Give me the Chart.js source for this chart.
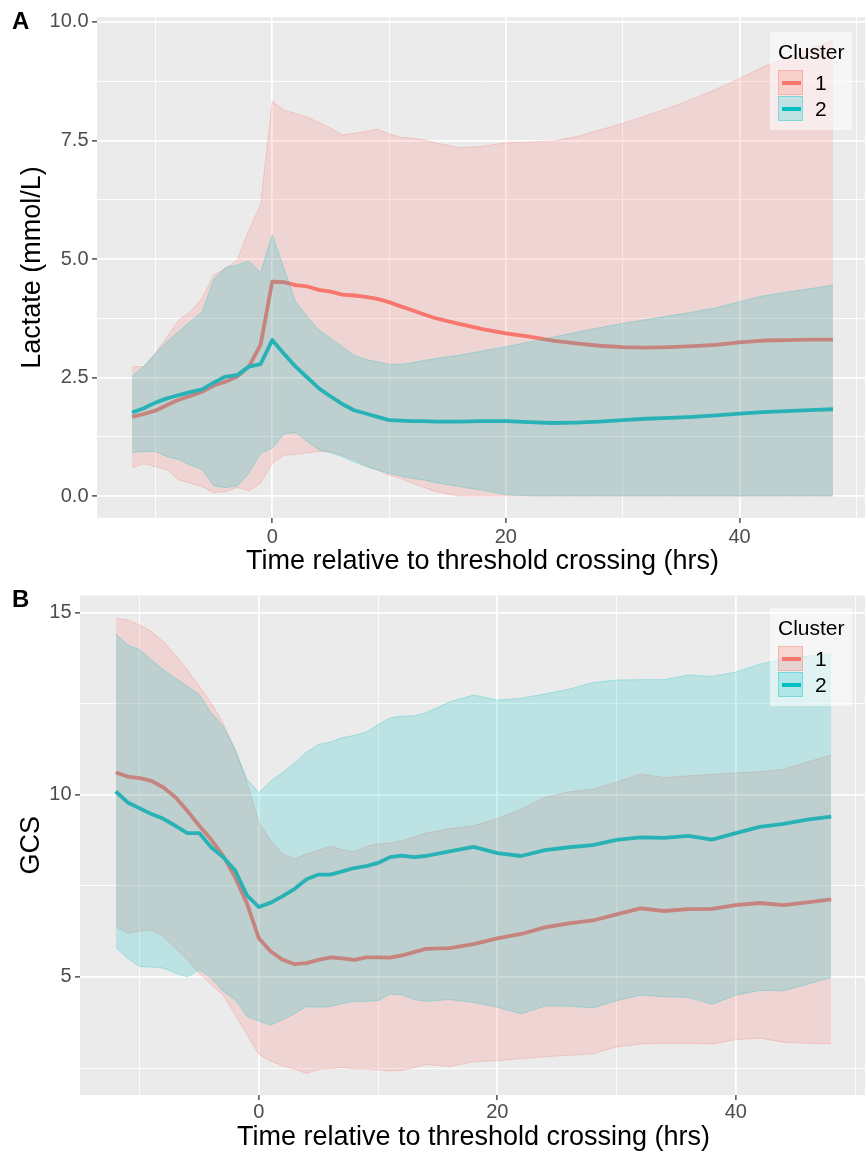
<!DOCTYPE html>
<html>
<head>
<meta charset="utf-8">
<script src="https://cdn.jsdelivr.net/npm/chart.js@4.4.1/dist/chart.umd.min.js"></script>
<style>
  html, body { margin:0; padding:0; background:#fff; overflow:hidden; }
  #wrap { position:relative; width:865px; height:1156px; overflow:hidden; font-family:'Liberation Sans', Arial, sans-serif; }
  #wrap canvas { position:absolute; left:0; }
  .tag { position:absolute; left:12px; font-weight:bold; font-size:24px; line-height:24px; color:#000; }
  .legend { position:absolute; left:770px; width:82px; height:98px; background:rgba(255,255,255,0.55); }
  .legend .ttl { position:absolute; left:8px; top:8px; font-size:21px; line-height:24px; color:#000; }
  .legend .sw { position:absolute; left:8px; width:25px; height:25px; box-sizing:border-box; }
  .legend .sw i { position:absolute; left:3px; top:10px; width:19px; height:4px; }
  .legend .lab { position:absolute; left:45px; font-size:21px; line-height:26px; color:#000; }
</style>
</head>
<body>
<div id="wrap">
  <canvas id="chartA" width="868" height="580" style="top:0"></canvas>
  <canvas id="chartB" width="867" height="576" style="top:580px"></canvas>
  <div class="tag" style="top:9px">A</div>
  <div class="tag" style="top:587px">B</div>
  <div class="legend" style="top:32px">
    <div class="ttl">Cluster</div>
    <div class="sw" style="top:38px;background:rgba(248,118,109,0.25);border:1px solid rgba(248,118,109,0.35)"><i style="background:#F8766D"></i></div>
    <div class="lab" style="top:38px">1</div>
    <div class="sw" style="top:64px;background:rgba(0,191,196,0.22);border:1px solid rgba(0,191,196,0.35)"><i style="background:#00BFC4"></i></div>
    <div class="lab" style="top:64px">2</div>
  </div>
  <div class="legend" style="top:608px">
    <div class="ttl">Cluster</div>
    <div class="sw" style="top:38px;background:rgba(248,118,109,0.25);border:1px solid rgba(248,118,109,0.35)"><i style="background:#F8766D"></i></div>
    <div class="lab" style="top:38px">1</div>
    <div class="sw" style="top:64px;background:rgba(0,191,196,0.22);border:1px solid rgba(0,191,196,0.35)"><i style="background:#00BFC4"></i></div>
    <div class="lab" style="top:64px">2</div>
  </div>
</div>
<script>
// --- datos (horas respecto al cruce del umbral) ---
const hours = [-12,-11,-10,-9,-8,-7,-6,-5,-4,-3,-2,-1,0,1,2,3,4,5,6,7,8,9,10,11,12,13,14,
  16,18,20,22,24,26,28,30,32,34,36,38,40,42,44,46,48];

// Panel A: lactato
const lactateMean1  = [1.67,1.73,1.80,1.92,2.03,2.11,2.20,2.33,2.41,2.52,2.73,3.19,4.52,4.51,4.45,4.42,4.35,4.31,4.25,4.23,4.20,4.16,4.09,4.00,3.92,3.83,3.75,
  3.63,3.52,3.43,3.36,3.28,3.22,3.17,3.14,3.13,3.14,3.16,3.19,3.24,3.28,3.29,3.30,3.30];
const lactateUpper1 = [2.73,2.73,3.01,3.36,3.71,3.89,4.17,4.66,4.80,4.98,5.61,6.14,8.33,8.14,8.07,7.99,7.88,7.76,7.62,7.65,7.69,7.74,7.64,7.57,7.55,7.51,7.45,
  7.35,7.38,7.45,7.47,7.49,7.58,7.72,7.86,8.02,8.19,8.38,8.58,8.81,9.05,9.25,9.43,9.62];
const lactateLower1 = [0.60,0.68,0.62,0.55,0.34,0.27,0.20,0.07,0.09,0.18,0.11,0.27,0.69,0.86,0.88,0.91,0.94,0.94,0.86,0.77,0.65,0.55,0.44,0.37,0.27,0.18,0.09,
  0,0,0,0,0,0,0,0,0,0,0,0,0,0,0,0,0];
const lactateMean2  = [1.76,1.85,1.97,2.06,2.13,2.19,2.25,2.39,2.52,2.55,2.73,2.78,3.29,3.00,2.73,2.50,2.27,2.10,1.94,1.81,1.74,1.67,1.60,1.59,1.58,1.58,1.57,
  1.57,1.58,1.58,1.56,1.54,1.55,1.57,1.60,1.63,1.65,1.67,1.70,1.74,1.77,1.79,1.81,1.83];
const lactateUpper2 = [2.53,2.73,3.01,3.26,3.47,3.68,3.89,4.57,4.82,4.87,4.96,4.71,5.51,4.80,4.10,3.78,3.50,3.33,3.15,2.97,2.88,2.83,2.78,2.78,2.81,2.86,2.90,
  2.97,3.06,3.15,3.25,3.35,3.45,3.55,3.64,3.72,3.80,3.88,3.97,4.10,4.22,4.30,4.37,4.45];
const lactateLower2 = [0.92,0.94,0.94,0.83,0.77,0.65,0.56,0.21,0.18,0.21,0.48,0.90,1.01,1.31,1.34,1.15,0.97,0.91,0.83,0.72,0.62,0.55,0.48,0.42,0.37,0.34,0.28,
  0.20,0.12,0.03,0,0,0,0,0,0,0,0,0,0,0,0,0,0];

// Panel B: GCS
const gcsMean1  = [10.61,10.50,10.46,10.38,10.20,9.93,9.56,9.15,8.77,8.33,7.74,7.02,6.06,5.70,5.47,5.35,5.38,5.47,5.54,5.51,5.47,5.54,5.54,5.53,5.59,5.68,5.77,
  5.79,5.90,6.06,6.18,6.36,6.47,6.55,6.72,6.88,6.81,6.86,6.87,6.97,7.03,6.97,7.05,7.13];
const gcsUpper1 = [14.84,14.80,14.66,14.48,14.20,13.84,13.43,12.98,12.52,11.97,11.25,10.34,9.24,8.74,8.38,8.24,8.38,8.47,8.59,8.49,8.44,8.59,8.65,8.68,8.74,8.84,8.95,
  9.07,9.15,9.35,9.60,9.93,10.08,10.15,10.35,10.57,10.47,10.52,10.56,10.60,10.63,10.70,10.90,11.09];
const gcsLower1 = [6.38,6.20,6.26,6.29,6.11,5.79,5.47,5.11,4.79,4.51,3.97,3.42,2.88,2.69,2.56,2.47,2.35,2.47,2.49,2.51,2.48,2.48,2.45,2.42,2.44,2.51,2.60,
  2.54,2.67,2.70,2.76,2.81,2.85,2.89,3.08,3.16,3.18,3.18,3.16,3.28,3.32,3.21,3.18,3.17];
const gcsMean2  = [10.09,9.79,9.63,9.47,9.34,9.15,8.95,8.95,8.56,8.29,7.93,7.24,6.92,7.04,7.22,7.42,7.68,7.81,7.81,7.90,7.99,8.04,8.13,8.29,8.33,8.29,8.32,
  8.45,8.57,8.40,8.32,8.48,8.56,8.62,8.76,8.83,8.82,8.87,8.77,8.95,9.12,9.20,9.32,9.40];
const gcsUpper2 = [14.41,14.11,13.98,13.70,13.43,13.20,12.98,12.75,12.25,11.88,11.25,10.43,10.06,10.38,10.61,10.88,11.17,11.38,11.45,11.57,11.63,11.72,11.93,12.11,12.16,12.17,12.25,
  12.55,12.74,12.60,12.65,12.77,12.90,13.08,13.15,13.16,13.16,13.29,13.25,13.37,13.58,13.74,13.80,13.86];
const gcsLower2 = [5.81,5.51,5.29,5.27,5.24,5.11,5.00,5.20,4.97,4.61,4.38,3.92,3.79,3.68,3.83,3.99,4.19,4.17,4.19,4.27,4.33,4.33,4.35,4.53,4.51,4.38,4.33,
  4.38,4.30,4.17,3.99,4.20,4.20,4.15,4.35,4.50,4.46,4.44,4.25,4.50,4.63,4.62,4.80,4.99];

// ticks
const xTicks = [-10,0,10,20,30,40,50];
const xMajor = [0,20,40];
const lactateTicks = [0,1.25,2.5,3.75,5,6.25,7.5,8.75,10];
const lactateMajor = [0,2.5,5,7.5,10];
const gcsTicks = [2.5,5,7.5,10,12.5,15];
const gcsMajor = [5,10,15];

const xTitle = 'Time relative to threshold crossing (hrs)';
const FONT = "'Liberation Sans', Arial, sans-serif";
const RED = '248,118,109';
const TEAL = '0,191,196';

const pts = arr => hours.map((h, i) => ({ x: h, y: arr[i] }));

// fondo gris del panel (estilo ggplot)
const panelBg = {
  id: 'panelBg',
  beforeDraw(chart) {
    const { ctx, chartArea: a } = chart;
    ctx.save();
    ctx.fillStyle = '#EBEBEB';
    ctx.fillRect(a.left, a.top, a.right - a.left, a.bottom - a.top);
    ctx.restore();
  }
};

function gridOpts(major) {
  const isMajor = c => c.tick && major.includes(c.tick.value);
  return {
    color: '#FFFFFF',
    lineWidth: c => isMajor(c) ? 1.8 : 0.9,
    tickColor: c => isMajor(c) ? '#333333' : 'rgba(0,0,0,0)',
    tickWidth: 1.3,
    tickLength: 5,
    drawTicks: true
  };
}

function makePanel(id, p) {
  const band = (data, rgb, target, order) => ({
    data: pts(data), borderColor: `rgba(${rgb},0.45)`, borderWidth: 0.6,
    backgroundColor: `rgba(${rgb},0.2)`, fill: target === null ? false : { target },
    pointRadius: 0, tension: 0, order
  });
  const line = (data, rgb, order) => ({
    data: pts(data), borderColor: `rgb(${rgb})`, borderWidth: 3.8,
    fill: false, pointRadius: 0, tension: 0, borderJoinStyle: 'round', order
  });

  // orden de dibujo: lineas abajo, banda 1 encima, banda 2 arriba
  return new Chart(document.getElementById(id), {
    type: 'line',
    data: { datasets: [
      band(p.upper1, RED, 1, 6),
      band(p.lower1, RED, null, 6),
      line(p.mean1, RED, 10),
      band(p.upper2, TEAL, 4, 4),
      band(p.lower2, TEAL, null, 4),
      line(p.mean2, TEAL, 9)
    ]},
    options: {
      responsive: false,
      animation: false,
      devicePixelRatio: 1,
      layout: { padding: { top: p.padTop, left: 0, right: 0, bottom: 0 } },
      plugins: { legend: { display: false }, tooltip: { enabled: false } },
      scales: {
        x: {
          type: 'linear', min: -15, max: 51,
          afterBuildTicks: s => { s.ticks = xTicks.map(v => ({ value: v })); },
          afterFit: s => { s.height = p.xAxisH; },
          ticks: {
            autoSkip: false, maxRotation: 0, color: '#4D4D4D', padding: p.xTickPad,
            font: { family: FONT, size: 20 },
            callback: v => xMajor.includes(v) ? String(v) : ''
          },
          grid: gridOpts(xMajor),
          border: { display: false },
          title: { display: true, text: xTitle, color: '#000', font: { family: FONT, size: 27 }, padding: { top: 0, bottom: 2 } }
        },
        y: {
          type: 'linear', min: p.yMin, max: p.yMax,
          afterBuildTicks: s => { s.ticks = p.yTicks.map(v => ({ value: v })); },
          afterFit: s => { s.width = p.yAxisW; },
          ticks: {
            autoSkip: false, color: '#4D4D4D', padding: 3.5,
            font: { family: FONT, size: 20 },
            callback: v => p.yMajor.includes(v) ? p.fmt(v) : ''
          },
          grid: gridOpts(p.yMajor),
          border: { display: false },
          title: { display: true, text: p.yTitle, color: '#000', font: { family: FONT, size: 27 }, padding: { top: p.yTitlePad, bottom: 0 } }
        }
      }
    },
    plugins: [panelBg]
  });
}

makePanel('chartA', {
  mean1: lactateMean1, upper1: lactateUpper1, lower1: lactateLower1,
  mean2: lactateMean2, upper2: lactateUpper2, lower2: lactateLower2,
  yMin: -0.464, yMax: 10.105, yTicks: lactateTicks, yMajor: lactateMajor,
  fmt: v => v.toFixed(1), yTitle: 'Lactate (mmol/L)',
  padTop: 17, xAxisH: 62, yAxisW: 97, xTickPad: 2, yTitlePad: 16
});

makePanel('chartB', {
  mean1: gcsMean1, upper1: gcsUpper1, lower1: gcsLower1,
  mean2: gcsMean2, upper2: gcsUpper2, lower2: gcsLower2,
  yMin: 1.76, yMax: 15.47, yTicks: gcsTicks, yMajor: gcsMajor,
  fmt: v => String(v), yTitle: 'GCS',
  padTop: 12.7, xAxisH: 61, yAxisW: 80, xTickPad: 0.5, yTitlePad: 15
});
</script>
</body>
</html>
